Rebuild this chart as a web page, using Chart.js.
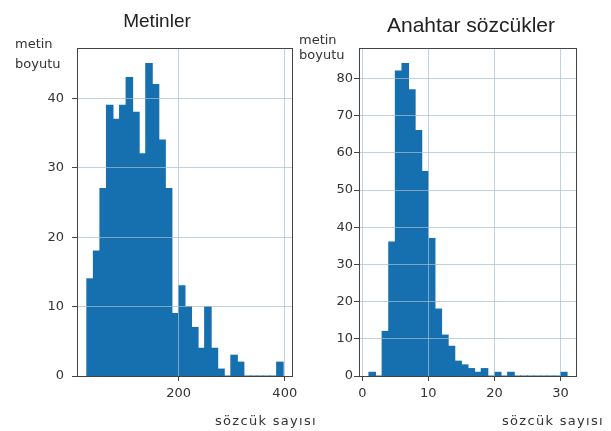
<!DOCTYPE html>
<html>
<head>
<meta charset="utf-8">
<script src="https://cdn.jsdelivr.net/npm/chart.js"></script>
<style>
  body { margin: 0; background: #fff; }
  #wrap { position: relative; width: 611px; height: 431px; overflow: hidden; color: #333; font-family: "DejaVu Sans", sans-serif; }
  .pane { position: absolute; top: 0; }
  .title { position: absolute; font-family: "Liberation Sans", Arial, sans-serif; line-height: 1; white-space: nowrap; transform: translateX(-50%); color: #222; }
  .ylbl { position: absolute; font-size: 13px; white-space: nowrap; }
  .xlbl { position: absolute; font-size: 13px; line-height: 18px; letter-spacing: 1.3px; white-space: nowrap; }
</style>
</head>
<body>
<div id="wrap">
  <div class="pane" style="left:0"><canvas id="metinChart" width="300" height="431"></canvas></div>
  <div class="pane" style="left:300px"><canvas id="anahtarChart" width="311" height="431"></canvas></div>

  <div class="title" style="left:157px; top:11px; font-size:19px">Metinler</div>
  <div class="title" style="left:471px; top:14px; font-size:21px">Anahtar sözcükler</div>

  <div class="ylbl" style="left:15px; top:34px; line-height:20px">metin<br>boyutu</div>
  <div class="ylbl" style="left:299px; top:32px; line-height:15px">metin<br>boyutu</div>

  <div class="xlbl" style="left:215px; top:412px">sözcük sayısı</div>
  <div class="xlbl" style="left:502px; top:412px">sözcük sayısı</div>
</div>

<script>
// histogram 1: words per text (30 bins)
var metinRange = [27, 397];
var metinCounts = [14, 18, 27, 39, 37, 39, 43, 38, 32, 45, 42, 34, 27, 9, 13,
                   10, 7, 4, 10, 4, 1, 0, 3, 2, 0, 0, 0, 0, 0, 2];
var metinXTicks = [200, 400];
var metinYTicks = [0, 10, 20, 30, 40];

// histogram 2: keywords per text (30 bins)
var anahtarRange = [1, 31];
var anahtarCounts = [1, 0, 12, 36, 82, 84, 77, 66, 55, 37, 18, 11, 8, 4, 3,
                     2, 1, 2, 0, 1, 0, 1, 0, 0, 0, 0, 0, 0, 0, 1];
var anahtarXTicks = [0, 10, 20, 30];
var anahtarYTicks = [0, 10, 20, 30, 40, 50, 60, 70, 80];

var barColor = '#1670b0';
var gridColor = 'rgba(170, 190, 205, 0.7)';
var axisColor = '#444';
var tickFont = { family: 'DejaVu Sans', size: 13 };

// bin centers from the range, like matplotlib's hist
function binPoints(range, counts) {
    var w = (range[1] - range[0]) / counts.length;
    return counts.map(function(c, i) {
        return { x: range[0] + w * (i + 0.5), y: c };
    });
}

// matplotlib style 5% margins
function padded(range, pct) {
    var d = (range[1] - range[0]) * pct;
    return [range[0] - d, range[1] + d];
}

// axes box on all four sides (drawn last, over the bars)
var frame = {
    id: 'frame',
    afterDraw: function(chart) {
        var a = chart.chartArea;
        var ctx = chart.ctx;
        ctx.save();
        ctx.strokeStyle = axisColor;
        ctx.lineWidth = 1;
        ctx.strokeRect(Math.round(a.left) + 0.5, Math.round(a.top) + 0.5,
                       Math.round(a.right - a.left) - 1, Math.round(a.bottom - a.top));
        ctx.restore();
    }
};

function makeHist(id, range, counts, xTicks, yTicks, pad, yLabelPad) {
    var xr = padded(range, 0.05);
    var ymax = Math.max.apply(null, counts) * 1.05;
    return new Chart(document.getElementById(id), {
        type: 'bar',
        data: {
            datasets: [{
                data: binPoints(range, counts),
                backgroundColor: barColor,
                borderWidth: 0,
                inflateAmount: 0.5,
                barPercentage: 1,
                categoryPercentage: 1,
            }]
        },
        options: {
            responsive: false,
            animation: false,
            events: [],
            layout: { autoPadding: false, padding: pad },
            plugins: { legend: { display: false }, tooltip: { enabled: false } },
            scales: {
                x: {
                    type: 'linear',
                    min: xr[0],
                    max: xr[1],
                    offset: false,
                    afterBuildTicks: function(s) { s.ticks = xTicks.map(function(v) { return { value: v }; }); },
                    afterFit: function(s) { s.height = 30; s.paddingLeft = 0; s.paddingRight = 0; },
                    grid: { offset: false, color: gridColor, z: 1, tickLength: 5, tickColor: axisColor },
                    border: { display: false },
                    ticks: { font: tickFont, color: '#333', padding: 5, maxRotation: 0 },
                },
                y: {
                    min: 0,
                    max: ymax,
                    afterBuildTicks: function(s) { s.ticks = yTicks.map(function(v) { return { value: v }; }); },
                    afterFit: function(s) { s.width = 40; s.paddingTop = 0; s.paddingBottom = 0; },
                    grid: { color: gridColor, z: 1, tickLength: 5, tickColor: axisColor },
                    border: { display: false },
                    ticks: { font: tickFont, color: '#333', padding: yLabelPad },
                }
            }
        },
        plugins: [frame]
    });
}

makeHist('metinChart', metinRange, metinCounts, metinXTicks, metinYTicks,
         { left: 37, right: 7, top: 48, bottom: 25 }, 8);
makeHist('anahtarChart', anahtarRange, anahtarCounts, anahtarXTicks, anahtarYTicks,
         { left: 19, right: 34, top: 48, bottom: 25 }, 1);
</script>
</body>
</html>
